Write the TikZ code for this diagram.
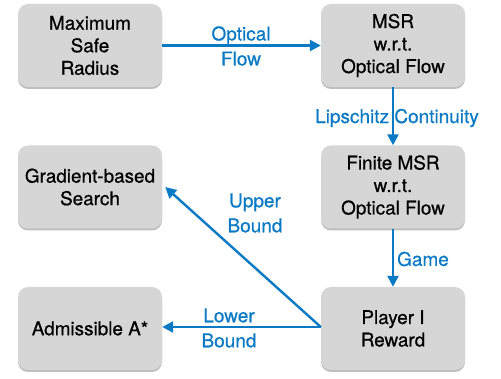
\documentclass[tikz,border=0pt]{standalone}
\usepackage{fontspec}
\setmainfont{TeX Gyre Heros}[FakeBold=0.6]
\usetikzlibrary{arrows.meta,shadows,calc}
\definecolor{lblue}{RGB}{10,122,196}
\definecolor{boxgray}{RGB}{214,214,214}
\tikzset{
  box/.style={draw=none, fill=boxgray, rounded corners=10pt, minimum width=144pt, minimum height=83pt,
    align=center, font=\fontsize{18.9}{22.5}\selectfont, inner sep=0pt,
    drop shadow={shadow xshift=0pt, shadow yshift=-2pt, fill=black, opacity=0.25}},
  conn/.style={draw=lblue, line width=2.4pt, -{Triangle[length=11pt,width=11pt]}},
  lbl/.style={text=lblue, align=center, font=\fontsize{19}{25}\selectfont, inner sep=0pt}
}
\begin{document}
\begin{tikzpicture}[x=1pt,y=-1pt]
\useasboundingbox (0,0) rectangle (501,379);
\node[box] (msr) at (90,45.5) {Maximum\\Safe\\Radius};
\node[box] (msrof) at (393,45.5) {MSR\\w.r.t.\\Optical Flow};
\node[box] (grad) at (90,187) {Gradient-based\\Search};
\node[box] (fin) at (393,187) {Finite MSR\\w.r.t.\\Optical Flow};
\node[box] (adm) at (90,328.5) {Admissible A*};
\node[box] (play) at (393,328.5) {Player I\\Reward};
\draw[conn] (msr.east) -- (msrof.west);
\draw[conn] (msrof.south) -- (fin.south |- fin.north);
\draw[conn] (fin.south) -- (play.north);
\draw[conn] ([yshift=1.5pt]play.west) -- ([yshift=1.5pt]adm.east);
\draw[conn] ([yshift=1.5pt]play.west) -- ([xshift=3pt]grad.east);
\node[lbl] (l1) at (241,46) {Optical\\Flow};
\node[lbl] (l2) at (397,118) {Lipschitz Continuity};
\node[lbl] (l3) at (423,259) {Game};
\node[lbl] (l4) at (255,213) {Upper\\Bound};
\node[lbl] (l5) at (229,328) {Lower\\Bound};
\end{tikzpicture}
\end{document}
